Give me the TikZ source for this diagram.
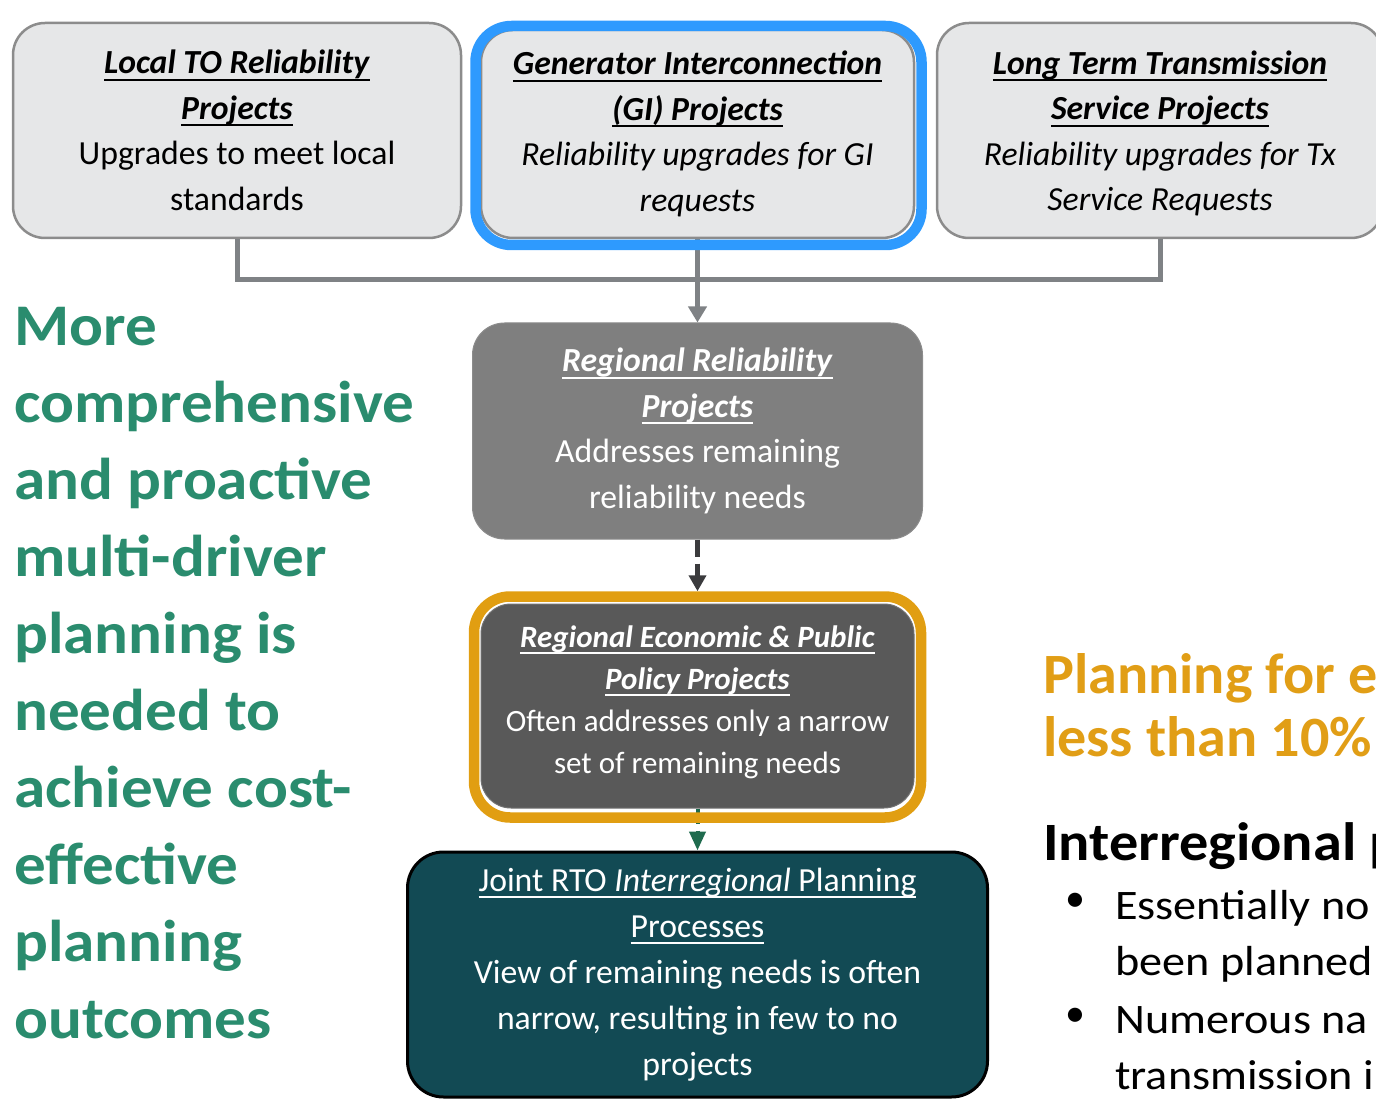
\documentclass[tikz,border=0pt]{standalone}
\usepackage{fontspec}
\setmainfont{Carlito}
\newfontfamily\lefttxtfont{Carlito}[FakeStretch=1.07]
\newfontfamily\orangefont{Carlito}[FakeStretch=1.02]
\newfontfamily\interfont{Carlito}[FakeStretch=1.08]
\newfontfamily\bulletfont{Carlito}[FakeStretch=1.1]
\usetikzlibrary{arrows.meta}
\definecolor{boxfill}{HTML}{E6E7E8}
\definecolor{boxedge}{HTML}{8C8C8C}
\definecolor{giblue}{HTML}{2E9AFE}
\definecolor{conngray}{HTML}{7F8285}
\definecolor{rrfill}{HTML}{7F7F7F}
\definecolor{refill}{HTML}{595959}
\definecolor{reorange}{HTML}{E19E12}
\definecolor{jtfill}{HTML}{124A54}
\definecolor{greenarrow}{HTML}{1F6B4E}
\definecolor{darkarrow}{HTML}{3B3B3D}
\definecolor{leftgreen}{HTML}{2A8C6E}
\definecolor{orangetext}{HTML}{E19E16}
\newcommand\myul[1]{\setbox0\hbox{#1}\rlap{\vrule height -5pt depth 7pt width \wd0}\box0}
\newcommand\boxtitle[1]{\myul{\textbf{\textit{#1}}}}
\newcommand\nodepth[1]{\raisebox{0pt}[\height][0pt]{#1}}
\tikzset{
  x=1pt, y=-1pt,
  boxtext/.style={align=center, font=\fontsize{33.7}{45.5}\selectfont},
  topbox/.style={boxtext, draw=boxedge, line width=2.5pt, fill=boxfill, rounded corners=32pt, text=black},
  ring/.style={draw=#1, line width=10.5pt, rounded corners=36pt, fill=none},
  conn/.style={draw=conngray, line width=5pt, line join=miter},
  bigtext/.style={anchor=north west, inner sep=0pt, align=left},
}
\begin{document}
\begin{tikzpicture}
\useasboundingbox (0,0) rectangle (1376,1099);
\clip (0,0) rectangle (1376,1099);

% top boxes
\node[topbox, minimum width=448pt, minimum height=215pt] (local) at (237,130.5)
  {\boxtitle{Local TO Reliability}\\ \boxtitle{Projects}\\ Upgrades to meet local\\ standards};
\node[topbox, minimum width=433pt, minimum height=208pt] (gi) at (697.5,134)
  {\boxtitle{Generator Interconnection}\\ \boxtitle{(GI) Projects}\\ \textit{Reliability upgrades for GI}\\ \textit{requests}};
\node[topbox, minimum width=446pt, minimum height=215pt] (lts) at (1160,130.5)
  {\boxtitle{Long Term Transmission}\\ \boxtitle{Service Projects}\\ \textit{Reliability upgrades for Tx}\\ \nodepth{\textit{Service Requests}}};

% regional reliability
\node[boxtext, fill=rrfill, draw=rrfill!90!white, line width=1pt, rounded corners=32pt, text=white,
      minimum width=450pt, minimum height=216pt] (rr) at (697.5,431)
  {\boxtitle{Regional Reliability}\\ \boxtitle{Projects}\\ Addresses remaining\\ reliability needs};

% connectors from top row
\coordinate (jn) at (697.5,280);
\draw[conn] (local.south) |- (jn) -| (lts.south);
\draw[conn, -{Triangle[width=18pt,length=16pt]}] (gi.south) -- (rr.north);

% blue ring around GI
\node[ring=giblue, minimum width=446pt, minimum height=219pt] (giring) at (698.5,135.5) {};

% regional economic
\node[boxtext, font=\fontsize{31}{42}\selectfont, fill=refill, draw=refill!85!white, line width=1pt,
      rounded corners=30pt, text=white, minimum width=433pt, minimum height=204pt] (re) at (697.5,706)
  {\boxtitle{Regional Economic \& Public}\\ \boxtitle{Policy Projects}\\ Often addresses only a narrow\\ set of remaining needs\vspace{8pt}};

% joint RTO
\node[boxtext, font=\fontsize{33.7}{46}\selectfont, fill=jtfill, draw=black, line width=3pt, rounded corners=36pt, text=white,
      minimum width=580pt, minimum height=245pt] (joint) at (697.5,974.5)
  {\myul{Joint RTO \textit{Interregional} Planning}\\ \myul{Processes}\\ View of remaining needs is often\\ narrow, resulting in few to no\\ projects};

% green dashed arrow (drawn under the ring)
\draw[draw=greenarrow, line width=4pt, dash pattern=on 4pt off 7pt,
      -{Triangle[width=16pt,length=19pt]}, greenarrow] (re.south) -- (joint.north);

% orange ring
\node[ring=reorange, minimum width=447pt, minimum height=221pt] (rering) at (697.5,707) {};

% dark dashed arrow
\draw[draw=darkarrow, line width=5pt, dash pattern=on 17pt off 7pt,
      -{Triangle[width=17pt,length=16pt]}, darkarrow] (rr.south) -- (rering.north);

% left text
\node[bigtext, text=leftgreen, font=\lefttxtfont\fontsize{59}{77}\selectfont\bfseries] (lefttext) at (14,307)
  {More\\comprehensive\\and proactive\\multi-driver\\planning is\\needed to\\achieve cost-\\effective\\planning\\outcomes};

% right texts
\node[bigtext, text=orangetext, font=\orangefont\fontsize{57}{63}\selectfont\bfseries] (orange) at (1043,653)
  {Planning for e\\less than 10\%};
\node[bigtext, text=black, font=\interfont\fontsize{54}{60}\selectfont\bfseries] (inter) at (1043,822)
  {Interregional p};
\node[bigtext, text=black, font=\bulletfont\fontsize{42}{56}\selectfont] (b1text) at (1115,890)
  {Essentially no\\been planned};
\node[bigtext, text=black, font=\bulletfont\fontsize{42}{56}\selectfont] (b2text) at (1115,1006)
  {Numerous na\\transmission i};
\node[text=black, font=\fontsize{40}{56}\selectfont, inner sep=0pt] (bul1) at (1075,902) {•};
\node[text=black, font=\fontsize{40}{56}\selectfont, inner sep=0pt] (bul2) at (1075,1017) {•};
\end{tikzpicture}
\end{document}
